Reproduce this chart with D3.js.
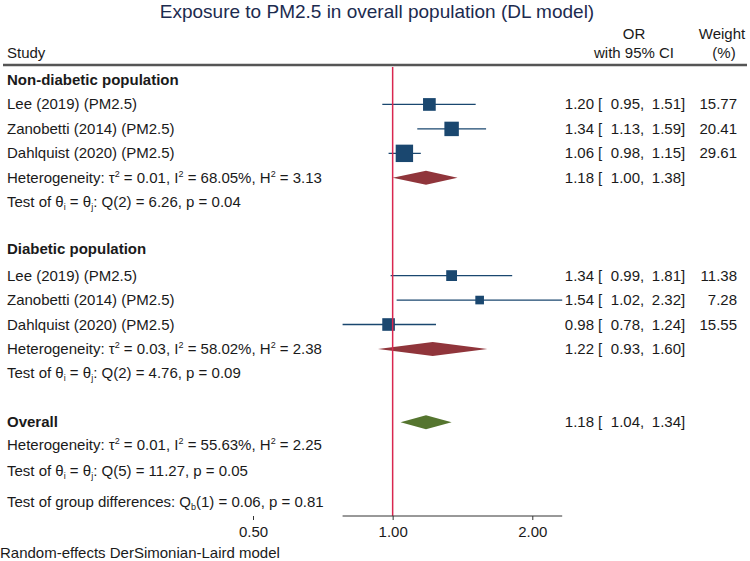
<!DOCTYPE html>
<html>
<head>
<meta charset="utf-8">
<script src="https://cdn.jsdelivr.net/npm/d3@7"></script>
<style>
  body { margin: 0; background: #fff; }
  svg { font-family: "Liberation Sans", Arial, sans-serif; }
</style>
</head>
<body>
<svg width="750" height="561"></svg>
<script>
// study rows
var studies = ["Lee (2019) (PM2.5)", "Zanobetti (2014) (PM2.5)", "Dahlquist (2020) (PM2.5)"];

var nonDiabOR = [1.20, 1.34, 1.06];
var nonDiabLo = [0.95, 1.13, 0.98];
var nonDiabHi = [1.51, 1.59, 1.15];
var nonDiabW = [15.77, 20.41, 29.61];

var diabOR = [1.34, 1.54, 0.98];
var diabLo = [0.99, 1.02, 0.78];
var diabHi = [1.81, 2.32, 1.24];
var diabW = [11.38, 7.28, 15.55];

// pooled estimates: non-diabetic, diabetic, overall
var groups = ["Non-diabetic population", "Diabetic population", "Overall"];
var pooledOR = [1.18, 1.22, 1.18];
var pooledLo = [1.00, 0.93, 1.04];
var pooledHi = [1.38, 1.60, 1.34];

// heterogeneity stats
var tau2 = ["0.01", "0.03", "0.01"];
var i2 = ["68.05", "58.02", "55.63"];
var h2 = ["3.13", "2.38", "2.25"];
var qdf = ["2", "2", "5"];
var qval = ["6.26", "4.76", "11.27"];
var pval = ["0.04", "0.09", "0.05"];

var tickValues = [0.5, 1, 2];

var svg = d3.select("svg");
var textColor = "#1a1a1a";
var navy = "#1a476f", maroon = "#90353b", green = "#55752f";
var fs = 15;

var x = d3.scaleLog().domain([0.5, 2]).range([253, 532.3]);
var size = d3.scaleSqrt().domain([0, 29.61]).range([0, 17.4]);
var rowY = function (i) { return 80 + 24.45 * i; };

// title
svg.append("text").attr("x", 377).attr("y", 18).attr("text-anchor", "middle")
    .attr("font-size", 19).attr("fill", "#1c2b4f")
    .text("Exposure to PM2.5 in overall population (DL model)");

// header
var head = svg.append("g").attr("font-size", fs).attr("fill", textColor);
head.append("text").attr("x", 7).attr("y", 58).text("Study");
head.append("text").attr("x", 634).attr("y", 39).attr("text-anchor", "middle").text("OR");
head.append("text").attr("x", 634).attr("y", 58).attr("text-anchor", "middle").text("with 95% CI");
head.append("text").attr("x", 722).attr("y", 39).attr("text-anchor", "middle").text("Weight");
head.append("text").attr("x", 724).attr("y", 58).attr("text-anchor", "middle").text("(%)");
svg.append("line").attr("x1", 3).attr("x2", 747).attr("y1", 65).attr("y2", 65)
    .attr("stroke", "#555").attr("stroke-width", 2.5);

var rows = svg.append("g").attr("font-size", fs).attr("fill", textColor);

function sup(t, s) {
  t.append("tspan").attr("font-size", 9).attr("dy", -6).text(s);
}

function hetText(y, k) {
  var t = rows.append("text").attr("x", 7).attr("y", y + 5);
  t.append("tspan").text("Heterogeneity: \u03c4");
  sup(t, "2");
  t.append("tspan").attr("dy", 6).text(" = " + tau2[k] + ", I");
  sup(t, "2");
  t.append("tspan").attr("dy", 6).text(" = " + i2[k] + "%, H");
  sup(t, "2");
  t.append("tspan").attr("dy", 6).text(" = " + h2[k]);
}

function testText(y, k) {
  var t = rows.append("text").attr("x", 7).attr("y", y + 5);
  t.append("tspan").text("Test of \u03b8");
  t.append("tspan").attr("font-size", 9).attr("dy", 3).text("i");
  t.append("tspan").attr("dy", -3).text(" = \u03b8");
  t.append("tspan").attr("font-size", 9).attr("dy", 3).text("j");
  t.append("tspan").attr("dy", -3).text(": Q(" + qdf[k] + ") = " + qval[k] + ", p = " + pval[k]);
}

function ciText(y, est, lo, hi, w) {
  var yy = y + 5;
  rows.append("text").attr("x", 594).attr("y", yy).attr("text-anchor", "end").text(est.toFixed(2));
  rows.append("text").attr("x", 598).attr("y", yy).text("[");
  rows.append("text").attr("x", 640).attr("y", yy).attr("text-anchor", "end").text(lo.toFixed(2));
  rows.append("text").attr("x", 640).attr("y", yy).text(",");
  rows.append("text").attr("x", 681).attr("y", yy).attr("text-anchor", "end").text(hi.toFixed(2));
  rows.append("text").attr("x", 681).attr("y", yy).text("]");
  if (w !== null) {
    rows.append("text").attr("x", 737).attr("y", yy).attr("text-anchor", "end").text(w.toFixed(2));
  }
}

var marks = svg.append("g");

function studyRows(start, ors, los, his, ws) {
  studies.forEach(function (s, i) {
    var y = rowY(start + i);
    rows.append("text").attr("x", 7).attr("y", y + 5).text(s);
    marks.append("line").attr("x1", x(los[i])).attr("x2", x(his[i]))
        .attr("y1", y).attr("y2", y).attr("stroke", navy).attr("stroke-width", 1.3);
    var sz = size(ws[i]);
    marks.append("rect").attr("x", x(ors[i]) - sz / 2).attr("y", y - sz / 2)
        .attr("width", sz).attr("height", sz).attr("fill", navy);
    ciText(y, ors[i], los[i], his[i], ws[i]);
  });
}

function diamond(y, k, color) {
  var h = 7;
  var pts = [[x(pooledLo[k]), y], [x(pooledOR[k]), y - h], [x(pooledHi[k]), y], [x(pooledOR[k]), y + h]];
  marks.append("path").attr("d", d3.line()(pts) + "Z").attr("fill", color);
  ciText(y, pooledOR[k], pooledLo[k], pooledHi[k], null);
}

// reference line at OR = 1
svg.append("line").attr("x1", x(1)).attr("x2", x(1)).attr("y1", 67).attr("y2", 516)
    .attr("stroke", "#d9264f").attr("stroke-width", 1.5);

// non-diabetic
rows.append("text").attr("x", 7).attr("y", rowY(0) + 5).attr("font-weight", "bold").text(groups[0]);
studyRows(1, nonDiabOR, nonDiabLo, nonDiabHi, nonDiabW);
diamond(rowY(4), 0, maroon);
hetText(rowY(4), 0);
testText(rowY(5), 0);

// diabetic
rows.append("text").attr("x", 7).attr("y", rowY(7) + 3).attr("font-weight", "bold").text(groups[1]);
studyRows(8, diabOR, diabLo, diabHi, diabW);
diamond(rowY(11), 1, maroon);
hetText(rowY(11), 1);
testText(rowY(12), 1);

// overall
rows.append("text").attr("x", 7).attr("y", rowY(14) + 5).attr("font-weight", "bold").text(groups[2]);
diamond(rowY(14), 2, green);
hetText(rowY(15) - 2, 2);
testText(rowY(16), 2);

var gd = rows.append("text").attr("x", 7).attr("y", 507);
gd.append("tspan").text("Test of group differences: Q");
gd.append("tspan").attr("font-size", 9).attr("dy", 3).text("b");
gd.append("tspan").attr("dy", -3).text("(1) = 0.06, p = 0.81");

// axis
var allLo = d3.min(nonDiabLo.concat(diabLo));
var allHi = d3.max(nonDiabHi.concat(diabHi));
var axisY = 516;
var axis = svg.append("g").attr("transform", "translate(0," + axisY + ")")
    .call(d3.axisBottom(x).tickValues(tickValues).tickFormat(d3.format(".2f")).tickSize(4).tickPadding(6));
axis.select(".domain").remove();
axis.selectAll(".tick line").attr("stroke", "#333");
axis.selectAll(".tick text").attr("font-size", fs).attr("fill", textColor)
    .attr("font-family", "Liberation Sans, Arial, sans-serif");
svg.append("line").attr("x1", x(allLo)).attr("x2", x(allHi)).attr("y1", axisY).attr("y2", axisY)
    .attr("stroke", "#333").attr("stroke-width", 1);

// footer
svg.append("text").attr("x", 0).attr("y", 558).attr("font-size", fs).attr("fill", textColor)
    .text("Random-effects DerSimonian-Laird model");
</script>
</body>
</html>
